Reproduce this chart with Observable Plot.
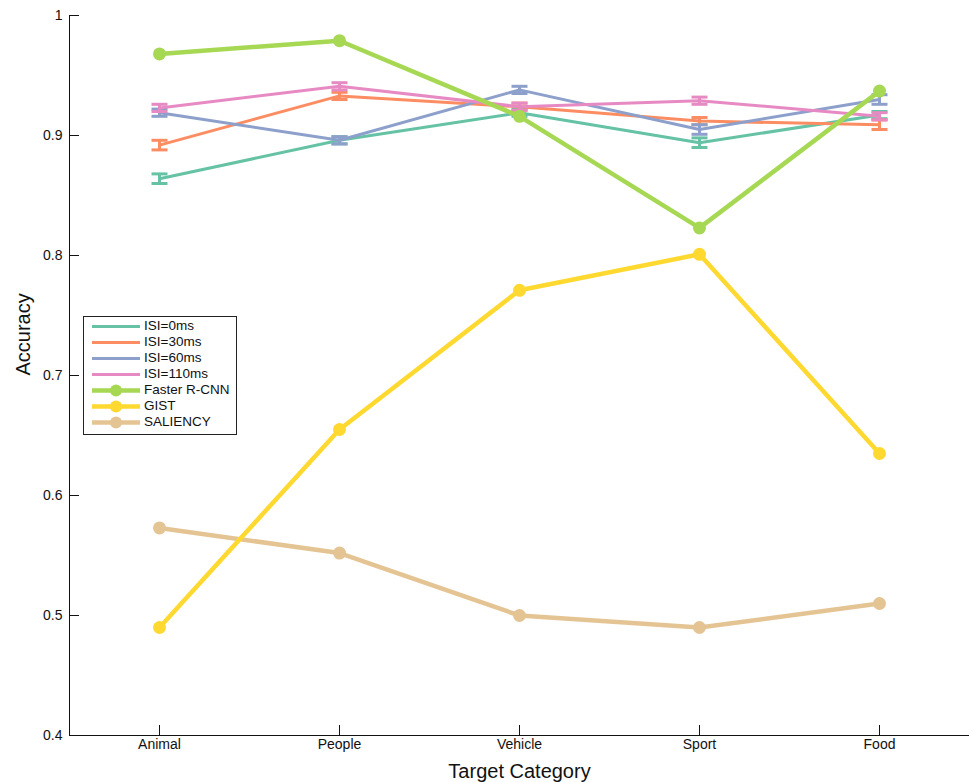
<!DOCTYPE html>
<html>
<head>
<meta charset="utf-8">
<script src="https://cdn.jsdelivr.net/npm/d3@7"></script>
<script src="https://cdn.jsdelivr.net/npm/@observablehq/plot@0.6"></script>
<style>
  html, body { margin: 0; padding: 0; background: #fff; overflow: hidden; }
  #wrap { position: relative; width: 969px; height: 782px; font-family: "Liberation Sans", Arial, Helvetica, sans-serif; }
  #wrap > svg { display: block; }
  #legend { position: absolute; left: 83px; top: 316px; width: 152px; height: 116px; border: 1px solid #222; background: #fff; padding-top: 1px; box-sizing: content-box; }
  .row { position: relative; height: 16px; }
  .row svg { position: absolute; left: 7px; top: 0; }
  .row span { position: absolute; left: 60px; top: 0; line-height: 16px; font-size: 13.5px; color: #111; white-space: nowrap; }
</style>
</head>
<body>
<div id="wrap"></div>
<script>
const categories = ["Animal", "People", "Vehicle", "Sport", "Food"];

const isi0    = [0.864, 0.896, 0.919, 0.894, 0.917];
const isi0Err = [0.004, 0.003, 0.003, 0.004, 0.003];
const isi30    = [0.892, 0.933, 0.924, 0.912, 0.909];
const isi30Err = [0.004, 0.003, 0.003, 0.003, 0.004];
const isi60    = [0.919, 0.896, 0.938, 0.905, 0.930];
const isi60Err = [0.003, 0.003, 0.003, 0.004, 0.004];
const isi110    = [0.923, 0.941, 0.924, 0.929, 0.916];
const isi110Err = [0.003, 0.003, 0.003, 0.003, 0.003];
const fasterRcnn = [0.968, 0.979, 0.916, 0.823, 0.937];
const gist       = [0.490, 0.655, 0.771, 0.801, 0.635];
const saliency   = [0.573, 0.552, 0.500, 0.490, 0.510];

const yTicks = [0.4, 0.5, 0.6, 0.7, 0.8, 0.9, 1];

const isiSeries = [
  {name: "ISI=0ms",   values: isi0,   err: isi0Err,   color: "#66c2a5"},
  {name: "ISI=30ms",  values: isi30,  err: isi30Err,  color: "#fc8d62"},
  {name: "ISI=60ms",  values: isi60,  err: isi60Err,  color: "#8da0cb"},
  {name: "ISI=110ms", values: isi110, err: isi110Err, color: "#e78ac3"}
];
const modelSeries = [
  {name: "Faster R-CNN", values: fasterRcnn, color: "#a6d854"},
  {name: "GIST",         values: gist,       color: "#ffd92f"},
  {name: "SALIENCY",     values: saliency,   color: "#e5c494"}
];

const isiRows = isiSeries.flatMap(s => categories.map((c, i) => ({cat: c, v: s.values[i], e: s.err[i], name: s.name, color: s.color})));
const modelRows = modelSeries.flatMap(s => categories.map((c, i) => ({cat: c, v: s.values[i], name: s.name, color: s.color})));

const capSymbol = {
  draw(context, size) {
    const w = Math.sqrt(size / Math.PI);
    context.moveTo(-w, 0);
    context.lineTo(w, 0);
  }
};

// left axis domain line, drawn from the y scale
const leftAxisLine = (index, scales, values, dims) => {
  const g = d3.create("svg:g");
  g.append("line")
    .attr("x1", dims.marginLeft + 0.5).attr("x2", dims.marginLeft + 0.5)
    .attr("y1", scales.y(yTicks[yTicks.length - 1])).attr("y2", scales.y(yTicks[0]))
    .attr("stroke", "#111");
  return g.node();
};

const font = "\"Liberation Sans\", Arial, Helvetica, sans-serif";

const chart = Plot.plot({
  width: 969,
  height: 782,
  marginLeft: 69,
  marginRight: 0,
  marginTop: 15,
  marginBottom: 47,
  style: {fontFamily: font, fontSize: "14px", color: "#111", background: "transparent"},
  x: {type: "point", domain: categories, padding: 0.5},
  y: {domain: [0.4, 1]},
  color: {type: "identity"},
  marks: [
    leftAxisLine,
    Plot.ruleY([0.4], {stroke: "#111"}),
    Plot.axisX({tickSize: -10, tickPadding: 14, label: null, fontSize: 14}),
    Plot.axisY({ticks: yTicks, tickFormat: d => String(d), tickSize: -10, tickPadding: 17, label: null, fontSize: 14}),
    Plot.text(["Target Category"], {frameAnchor: "bottom", lineAnchor: "bottom", dy: 42, fontSize: 20, fill: "#111"}),
    Plot.text(["Accuracy"], {frameAnchor: "left", dx: -46, rotate: -90, fontSize: 20, fill: "#111"}),
    ...isiSeries.flatMap(s => {
      const rows = isiRows.filter(d => d.name === s.name);
      return [
        Plot.line(rows, {x: "cat", y: "v", stroke: "color", strokeWidth: 3}),
        Plot.ruleX(rows, {x: "cat", y1: d => d.v - d.e, y2: d => d.v + d.e, stroke: "color", strokeWidth: 3}),
        Plot.dot(rows, {x: "cat", y: d => d.v - d.e, symbol: capSymbol, r: 8, stroke: "color", fill: "none", strokeWidth: 3}),
        Plot.dot(rows, {x: "cat", y: d => d.v + d.e, symbol: capSymbol, r: 8, stroke: "color", fill: "none", strokeWidth: 3})
      ];
    }),
    ...modelSeries.slice().reverse().flatMap(s => {
      const rows = modelRows.filter(d => d.name === s.name);
      return [
        Plot.line(rows, {x: "cat", y: "v", stroke: "color", strokeWidth: 4.5}),
        Plot.dot(rows, {x: "cat", y: "v", fill: "color", r: 6.5})
      ];
    })
  ]
});

const wrap = document.getElementById("wrap");
wrap.appendChild(chart);

// legend
const legend = document.createElement("div");
legend.id = "legend";
const legendItems = [
  ...isiSeries.map(s => ({name: s.name, color: s.color, dot: false})),
  ...modelSeries.map(s => ({name: s.name, color: s.color, dot: true}))
];
for (const item of legendItems) {
  const row = document.createElement("div");
  row.className = "row";
  const sw = d3.create("svg").attr("width", 50).attr("height", 16);
  sw.append("line").attr("x1", 1).attr("x2", 49).attr("y1", 8.5).attr("y2", 8.5)
    .attr("stroke", item.color).attr("stroke-width", item.dot ? 4.5 : 3);
  if (item.dot) sw.append("circle").attr("cx", 25).attr("cy", 8.5).attr("r", 6).attr("fill", item.color);
  row.appendChild(sw.node());
  const t = document.createElement("span");
  t.textContent = item.name;
  row.appendChild(t);
  legend.appendChild(row);
}
wrap.appendChild(legend);
</script>
</body>
</html>
